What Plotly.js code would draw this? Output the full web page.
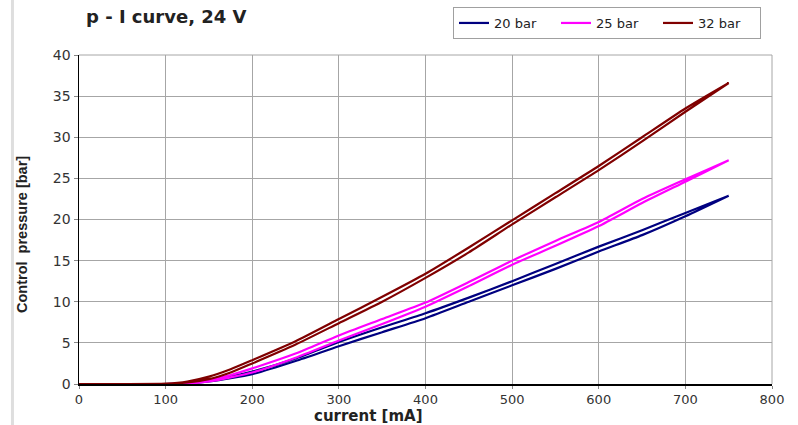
<!DOCTYPE html>
<html>
<head>
<meta charset="utf-8">
<script src="https://cdn.plot.ly/plotly-3.0.1.min.js"></script>
<style>html,body{margin:0;padding:0;background:#fff;}#chart{width:798px;height:425px;}</style>
</head>
<body>
<div id="chart"></div>
<script>
// current [mA]
const current = [0, 50, 100, 125, 150, 175, 200, 250, 300, 350, 400, 450, 500, 550, 600, 650, 700, 750];
// 20 bar valve: rising / falling branches
const p20Up   = [0, 0, 0, 0.05, 0.3, 0.7, 1.2, 2.8, 4.6, 6.3, 8.0, 10.0, 12.0, 14.0, 16.1, 18.1, 20.4, 22.9];
const p20Down = [0, 0, 0, 0.1, 0.4, 0.9, 1.5, 3.1, 5.1, 6.9, 8.6, 10.5, 12.5, 14.6, 16.7, 18.7, 20.8, 22.9];
// 25 bar valve
const p25Up   = [0, 0, 0, 0.05, 0.3, 0.8, 1.4, 3.2, 5.3, 7.3, 9.4, 11.9, 14.5, 16.8, 19.2, 22.0, 24.6, 27.2];
const p25Down = [0, 0, 0, 0.1, 0.5, 1.1, 1.9, 3.7, 5.9, 7.9, 9.9, 12.4, 15.0, 17.4, 19.7, 22.5, 24.9, 27.2];
// 32 bar valve
const p32Up   = [0, 0, 0, 0.2, 0.6, 1.4, 2.5, 4.8, 7.4, 10.0, 12.9, 16.0, 19.4, 22.7, 26.0, 29.5, 33.1, 36.6];
const p32Down = [0, 0, 0.05, 0.3, 0.9, 1.8, 2.9, 5.2, 7.9, 10.6, 13.4, 16.6, 19.9, 23.2, 26.5, 30.0, 33.5, 36.6];

const seriesNames = ['20 bar', '25 bar', '32 bar'];
const seriesColors = ['#000080', '#ff00ff', '#800000'];
const ups = [p20Up, p25Up, p32Up];
const downs = [p20Down, p25Down, p32Down];

const loopX = current.concat(current.slice().reverse());
const traces = seriesNames.map((name, i) => ({
  type: 'scatter', mode: 'lines', name: name,
  x: loopX,
  y: ups[i].concat(downs[i].slice().reverse()),
  line: {color: seriesColors[i], width: 2.2, shape: 'spline', smoothing: 0.6}
}));

const WIDE = 'DejaVu Sans, sans-serif';
const NARROW = 'Liberation Sans, Arial, sans-serif';
const layout = {
  width: 798, height: 425,
  margin: {l: 79, r: 26, t: 55, b: 41, autoexpand: false},
  paper_bgcolor: '#ffffff', plot_bgcolor: '#ffffff',
  font: {family: WIDE, size: 13, color: '#333'},
  showlegend: true,
  legend: {
    orientation: 'h', x: (453 - 79) / 693, y: 1 + (55 - 7) / 329, xanchor: 'left', yanchor: 'top',
    bordercolor: '#a0a0a0', borderwidth: 1, bgcolor: '#ffffff',
    font: {family: WIDE, size: 13, color: '#222'},
    itemwidth: 30, tracegroupgap: 0, entrywidth: 57
  },
  xaxis: {
    range: [0, 800], dtick: 100, tick0: 0,
    showgrid: true, gridcolor: '#a6a6a6', gridwidth: 1,
    showline: true, linecolor: '#000', linewidth: 1.5,
    ticks: 'outside', ticklen: 3, tickcolor: '#888',
    tickfont: {family: WIDE, size: 13, color: '#333'},
    zeroline: false, mirror: false, fixedrange: true
  },
  yaxis: {
    range: [0, 40], dtick: 5, tick0: 0,
    showgrid: true, gridcolor: '#a6a6a6', gridwidth: 1,
    showline: true, linecolor: '#000', linewidth: 1.5,
    ticks: 'outside', ticklen: 4, tickcolor: '#888',
    tickfont: {family: WIDE, size: 14, color: '#333'},
    zeroline: false, fixedrange: true
  },
  shapes: [
    {type: 'line', xref: 'paper', yref: 'paper', x0: 1, x1: 1, y0: 0, y1: 1, line: {color: '#a6a6a6', width: 1}},
    {type: 'line', xref: 'paper', yref: 'paper', x0: 0, x1: 1, y0: 1, y1: 1, line: {color: '#a6a6a6', width: 1}},
    {type: 'line', xref: 'paper', yref: 'paper', x0: -0.096, x1: -0.096, y0: -0.2, y1: 1.2, line: {color: '#dedede', width: 3}}
  ],
  annotations: [
    {text: '<b>p - I curve, 24 V</b>', xref: 'paper', yref: 'paper', x: (84 - 79) / 693, y: 1 + (55 - 16) / 329,
     xanchor: 'left', yanchor: 'middle', showarrow: false, font: {family: WIDE, size: 18, color: '#222'}},
    {text: '<b>current [mA]</b>', xref: 'paper', yref: 'paper', x: (368 - 79) / 693, y: -(415.5 - 384) / 329,
     xanchor: 'center', yanchor: 'middle', showarrow: false, font: {family: WIDE, size: 15, color: '#222'}},
    {text: '<b>Control  pressure [bar]</b>', xref: 'paper', yref: 'paper', x: (22 - 79) / 693, y: (384 - 235) / 329,
     xanchor: 'center', yanchor: 'middle', textangle: -90, showarrow: false, font: {family: NARROW, size: 14.5, color: '#222'}}
  ]
};

Plotly.newPlot('chart', traces, layout, {displayModeBar: false, staticPlot: true});
</script>
</body>
</html>
